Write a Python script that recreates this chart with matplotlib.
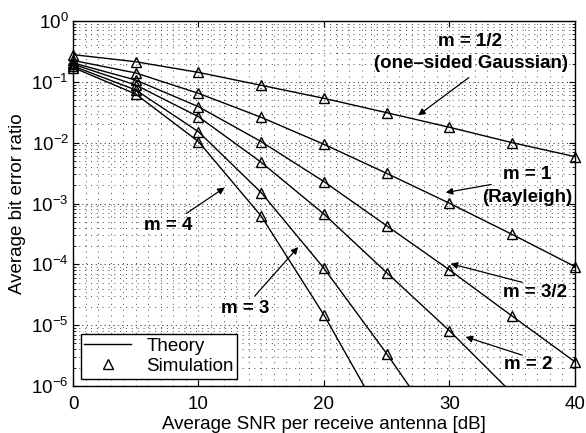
import numpy as np
import matplotlib
matplotlib.use("Agg")
import matplotlib.pyplot as plt
from matplotlib.ticker import LogLocator, NullFormatter, MultipleLocator

plt.rcParams['font.family'] = ['Liberation Sans', 'DejaVu Sans']
plt.rcParams['mathtext.fontset'] = 'custom'
plt.rcParams['mathtext.rm'] = 'Liberation Sans'
plt.rcParams['mathtext.it'] = 'Liberation Sans:italic'
plt.rcParams['mathtext.bf'] = 'Liberation Sans:bold'

snr_db = [0, 5, 10, 15, 20, 25, 30, 35, 40]

ber_m_half = [0.28, 0.214, 0.143, 0.0877, 0.0536, 0.0311, 0.0179, 0.0100, 0.0059]
ber_m_1 = [0.225, 0.14, 0.0647, 0.0261, 0.0094, 0.00313, 0.00101, 3.1e-4, 9.2e-5]
ber_m_3half = [0.205, 0.107, 0.039, 0.0104, 0.00229, 4.3e-4, 8.1e-5, 1.41e-5, 2.5e-6]
ber_m_2 = [0.195, 0.0887, 0.0267, 0.00475, 6.7e-4, 7.3e-5, 8.1e-6, 7.6e-7, 6e-8]
ber_m_3 = [0.182, 0.0734, 0.0151, 0.00151, 8.6e-5, 3.4e-6, 1.1e-7, 3e-9, 1e-10]
ber_m_4 = [0.172, 0.063, 0.0104, 6.2e-4, 1.47e-5, 2.2e-7, 3e-9, 1e-11, 1e-13]

curves = [ber_m_half, ber_m_1, ber_m_3half, ber_m_2, ber_m_3, ber_m_4]

fig = plt.figure(figsize=(5.86, 4.33), dpi=100)
ax = fig.add_axes([0.1246, 0.1085, 0.8565, 0.843])

x = np.array(snr_db, dtype=float)
for i, c in enumerate(curves):
    y = np.array(c)
    ax.semilogy(x, y, color='black', lw=1.0, label='Theory' if i == 0 else None)
    mask = y >= 1e-6
    ax.semilogy(x[mask], y[mask], linestyle='none', marker='^', markersize=7,
                markerfacecolor='none', markeredgecolor='black', markeredgewidth=1.0,
                clip_on=False, label='Simulation' if i == 0 else None, zorder=5)

ax.set_xlim(0, 40)
ax.set_ylim(1e-6, 1)
ax.xaxis.set_major_locator(MultipleLocator(10))
ax.xaxis.set_minor_locator(MultipleLocator(1))
ax.yaxis.set_major_locator(LogLocator(base=10, numticks=10))
ax.yaxis.set_minor_locator(LogLocator(base=10, subs=np.arange(2, 10), numticks=20))
ax.yaxis.set_minor_formatter(NullFormatter())

ax.grid(True, which='major', axis='x', linestyle=(0, (1, 3)), color='0.55', lw=0.9)
ax.grid(True, which='major', axis='y', linestyle=(0, (1, 3)), color='0.25', lw=0.8)
ax.grid(True, which='minor', linestyle=(0, (1, 5)), color='0.3', lw=0.7)
ax.tick_params(which='both', direction='in', top=True, right=True, labelsize=13.5)
ax.tick_params(axis='x', pad=7)
ax.tick_params(axis='y', pad=3)
ax.tick_params(which='major', length=4)
ax.tick_params(which='minor', length=2)
ax.tick_params(axis='x', which='minor', length=0)
for s in ax.spines.values():
    s.set_linewidth(1.0)

ax.set_xlabel('Average SNR per receive antenna [dB]', fontsize=13.5, labelpad=2)
ax.set_ylabel('Average bit error ratio', fontsize=13.5, labelpad=4)

leg = ax.legend(loc='lower left', fontsize=13.5, frameon=True, fancybox=False,
                edgecolor='black', framealpha=1, borderaxespad=0.4,
                handlelength=2.5, borderpad=0.2, labelspacing=0.15, handletextpad=0.8)
leg.get_frame().set_linewidth(1.0)

def px2data(px, py):
    xd = (px - 73) / 12.55
    yd = 10 ** (-(py - 21) / 60.83)
    return xd, yd

tkw = dict(fontsize=13.5, fontweight='bold', ha='center', va='center')
akw = dict(arrowstyle='-|>', color='black', lw=0.9, mutation_scale=10)

ax.text(*px2data(470, 41), 'm = 1/2', **tkw)
ax.text(*px2data(471, 63), '(one\u2013sided Gaussian)', **tkw)
ax.annotate('', xy=px2data(416, 117), xytext=px2data(471, 76), arrowprops=akw)

ax.text(*px2data(527, 174), 'm = 1', **tkw)
ax.text(*px2data(527, 197), '(Rayleigh)', **tkw)
ax.annotate('', xy=px2data(443, 193), xytext=px2data(494, 184), arrowprops=akw)

ax.text(*px2data(535, 292), 'm = 3/2', **tkw)
ax.annotate('', xy=px2data(448, 263), xytext=px2data(525, 283), arrowprops=akw)

ax.text(*px2data(528, 364), 'm = 2', **tkw)
ax.annotate('', xy=px2data(463, 336), xytext=px2data(525, 356), arrowprops=akw)

ax.text(*px2data(168, 225), 'm = 4', **tkw)
ax.annotate('', xy=px2data(227, 186), xytext=px2data(184, 215), arrowprops=akw)

ax.text(*px2data(245, 308), 'm = 3', **tkw)
ax.annotate('', xy=px2data(300, 245), xytext=px2data(253, 298), arrowprops=akw)

fig.savefig('out.png', dpi=100)
